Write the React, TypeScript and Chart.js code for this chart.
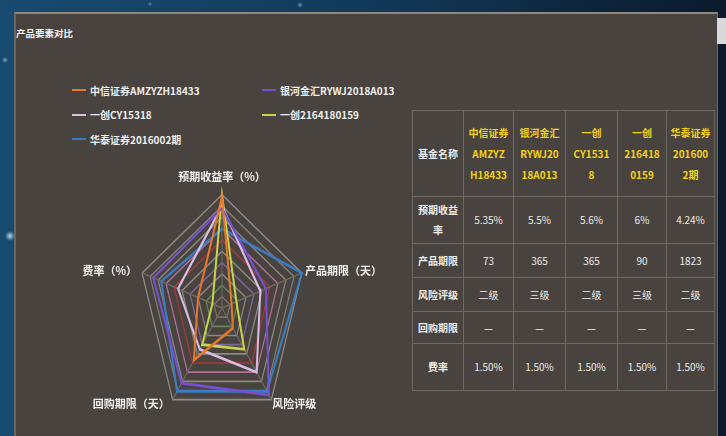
import React, { useEffect, useRef } from 'react';
import { Chart, registerables } from 'chart.js';

Chart.register(...registerables);

// ---------- data ----------
const indicators = ['预期收益率（%）', '产品期限（天）', '风险评级', '回购期限（天）', '费率（%）'];
const seriesNames = ['中信证券AMZYZH18433', '银河金汇RYWJ2018A013', '一创CY15318', '一创2164180159', '华泰证券2016002期'];
const zhongxinScores = [98, 12, 22, 57, 30];
const yinheScores = [88, 55, 95, 82, 86];
const chuangCyScores = [90, 48, 70, 45, 55];
const chuang216Scores = [100, 18, 45, 40, 12];
const huataiScores = [70, 100, 91, 91, 76];

const fundNameLines = [
  ['中信证券', 'AMZYZ', 'H18433'],
  ['银河金汇', 'RYWJ20', '18A013'],
  ['一创', 'CY1531', '8'],
  ['一创', '216418', '0159'],
  ['华泰证券', '201600', '2期'],
];
const headerLabel = '基金名称';
const rowLabels = ['预期收益率', '产品期限', '风险评级', '回购期限', '费率'];
const expectedReturn = ['5.35%', '5.5%', '5.6%', '6%', '4.24%'];
const productTerm = ['73', '365', '365', '90', '1823'];
const riskLevel = ['二级', '三级', '二级', '三级', '二级'];
const repoTerm = ['—', '—', '—', '—', '—'];
const feeRate = ['1.50%', '1.50%', '1.50%', '1.50%', '1.50%'];
const titleText = '产品要素对比';

// ---------- styles ----------
const seriesColors = ['#e5782c', '#7650d2', '#d9bde6', '#c8d447', '#3b7cc4'];
const ringColors = ['#8a8680', '#77736c', '#5f8a5c', '#8a8680', '#7a68a8', '#8e8a84', '#a83a3a', '#b36f98', '#8b8780', '#807c76', '#908d86'];
const FONT = '"Noto Sans CJK SC", "Noto Sans", sans-serif';
const K = 1.349;

const stretchPlugin = {
  id: 'stretch',
  beforeDraw(chart: any) {
    const s = chart.scales.r;
    const ctx = chart.ctx;
    ctx.save();
    ctx.translate(0, s.yCenter);
    ctx.scale(1, K);
    ctx.translate(0, -s.yCenter);
  },
  afterDraw(chart: any) {
    const ctx = chart.ctx;
    ctx.restore();
    const s = chart.scales.r;
    ctx.save();
    ctx.font = `bold 11px ${FONT}`;
    ctx.fillStyle = '#eeeeee';
    (chart.data.labels as string[]).forEach((lab, i) => {
      const p = s.getPointPosition(i, s.drawingArea);
      const dx = p.x - s.xCenter;
      const dy = (p.y - s.yCenter) * K;
      const x = s.xCenter + dx;
      const y = s.yCenter + dy;
      ctx.textBaseline = 'middle';
      if (Math.abs(dx) < 1) {
        ctx.textAlign = 'center';
        ctx.fillText(lab, x, y - 18);
      } else if (dy < 0) {
        ctx.textAlign = dx > 0 ? 'left' : 'right';
        ctx.fillText(lab, dx > 0 ? x + 3 : x - 5, y - 2);
      } else {
        ctx.textAlign = dx > 0 ? 'left' : 'right';
        ctx.fillText(lab, dx > 0 ? x + 1 : x - 3, y + 4);
      }
    });
    ctx.restore();
  },
};

function Radar() {
  const ref = useRef<HTMLCanvasElement>(null);
  useEffect(() => {
    const allScores = [zhongxinScores, yinheScores, chuangCyScores, chuang216Scores, huataiScores];
    const chart = new Chart(ref.current!, {
      type: 'radar',
      data: {
        labels: indicators,
        datasets: allScores.map((d, i) => ({
          label: seriesNames[i],
          data: d,
          borderColor: seriesColors[i],
          backgroundColor: 'transparent',
          borderWidth: 2,
          pointRadius: 0,
          fill: false,
          clip: false as any,
        })),
      },
      options: {
        animation: false,
        responsive: true,
        maintainAspectRatio: false,
        layout: { padding: { left: 78, right: 84, top: 64, bottom: 28 } },
        plugins: { legend: { display: false }, tooltip: { enabled: false } },
        scales: {
          r: {
            min: 0,
            max: 100,
            ticks: { display: false, stepSize: 10 },
            pointLabels: { display: false },
            grid: { color: (c: any) => ringColors[c.index] ?? '#8a8680', lineWidth: 1.2 },
            angleLines: { color: '#6f6b64', lineWidth: 1 },
          },
        },
      },
      plugins: [stretchPlugin],
    });
    return () => chart.destroy();
  }, []);
  return (
    <div style={{ position: 'absolute', left: 60, top: 160, width: 330, height: 260 }}>
      <canvas ref={ref} />
    </div>
  );
}

const colWidths = [51, 50, 52, 52, 49, 48];
const rowHeights = [86, 47, 34, 34, 32, 47];

function DataTable() {
  const rows = [expectedReturn, productTerm, riskLevel, repoTerm, feeRate];
  const cell: React.CSSProperties = {
    border: '1px solid #6d6861',
    color: '#ececec',
    font: `10px ${FONT}`,
    textAlign: 'center',
    verticalAlign: 'middle',
    padding: '0 3px',
    lineHeight: '20px',
    wordBreak: 'break-all',
  };
  const labelCell: React.CSSProperties = { ...cell, fontWeight: 'bold' };
  const headCell: React.CSSProperties = { ...cell, color: '#f2d21c', fontWeight: 'bold', lineHeight: '21px', padding: 0 };
  return (
    <table
      style={{
        position: 'absolute',
        left: 412,
        top: 110,
        borderCollapse: 'collapse',
        tableLayout: 'fixed',
        width: colWidths.reduce((a, b) => a + b, 0),
      }}
    >
      <colgroup>
        {colWidths.map((w, i) => (
          <col key={i} style={{ width: w }} />
        ))}
      </colgroup>
      <tbody>
        <tr style={{ height: rowHeights[0] }}>
          <td style={labelCell}>{headerLabel}</td>
          {fundNameLines.map((lines, i) => (
            <td key={i} style={headCell}>
              {lines.map((l, j) => (
                <div key={j}>{l}</div>
              ))}
            </td>
          ))}
        </tr>
        {rows.map((r, ri) => (
          <tr key={ri} style={{ height: rowHeights[ri + 1] }}>
            <td style={labelCell}>{rowLabels[ri]}</td>
            {r.map((v, ci) => (
              <td key={ci} style={cell}>
                {v}
              </td>
            ))}
          </tr>
        ))}
      </tbody>
    </table>
  );
}

function Legend() {
  return (
    <div
      style={{
        position: 'absolute',
        left: 72,
        top: 78,
        display: 'grid',
        gridTemplateColumns: '190px 190px',
        gridAutoRows: '24.5px',
      }}
    >
      {seriesNames.map((n, i) => (
        <div key={i} style={{ display: 'flex', alignItems: 'center' }}>
          <span style={{ display: 'inline-block', width: 14, height: 2, background: seriesColors[i], marginRight: 4 }} />
          <span style={{ color: '#eeeeee', font: `bold 10px ${FONT}`, whiteSpace: 'nowrap' }}>{n}</span>
        </div>
      ))}
    </div>
  );
}

export default function App() {
  return (
    <div
      style={{
        position: 'fixed',
        left: 0,
        top: 0,
        width: 726,
        height: 436,
        overflow: 'hidden',
        background:
          'radial-gradient(circle at 10px 236px, rgba(200,230,255,0.9) 0, rgba(200,230,255,0) 5px),' +
          'radial-gradient(circle at 5px 60px, rgba(200,230,255,0.6) 0, rgba(200,230,255,0) 3px),' +
          'radial-gradient(circle at 300px 5px, rgba(200,230,255,0.5) 0, rgba(200,230,255,0) 3px),' +
          'radial-gradient(circle at 150px 4px, rgba(200,230,255,0.5) 0, rgba(200,230,255,0) 2px),' +
          'linear-gradient(90deg, #184b70 0%, #123a5a 50%, #0a1a2c 100%)',
      }}
    >
      <div
        style={{
          position: 'absolute',
          left: 14,
          top: 12,
          width: 701,
          height: 430,
          background: '#48433e',
          borderTop: '2px solid #8e887f',
          borderLeft: '2px solid #6b665f',
          borderRight: '1px solid #6b665f',
        }}
      />
      <div style={{ position: 'absolute', left: 717, top: 18, width: 9, height: 26, background: '#d9d9d9' }} />
      <div
        style={{
          position: 'absolute',
          left: 16,
          top: 26,
          color: '#f2f2f2',
          font: `bold 9.5px ${FONT}`,
          whiteSpace: 'nowrap',
        }}
      >
        {titleText}
      </div>
      <Legend />
      <Radar />
      <DataTable />
    </div>
  );
}
